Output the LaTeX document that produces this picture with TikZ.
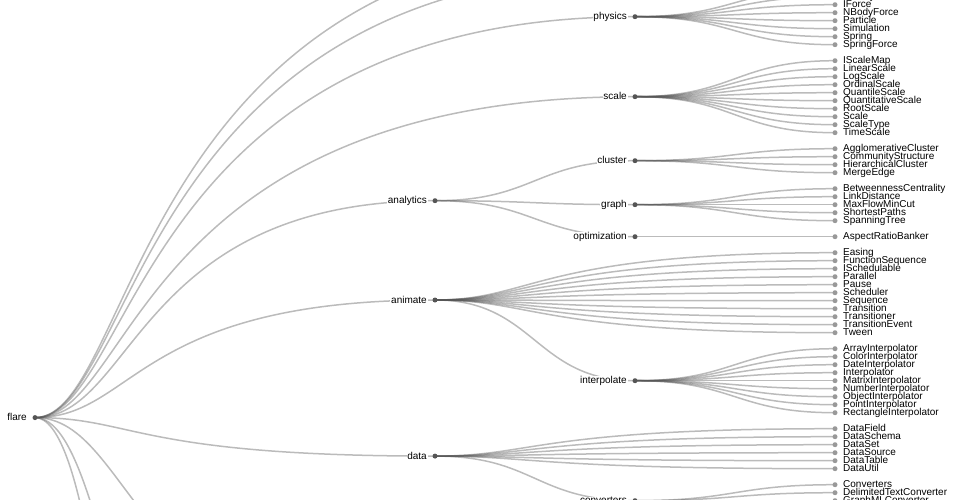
\documentclass[tikz,border=0pt]{standalone}
\usepackage{fontspec}
\setmainfont{Liberation Sans}
\setsansfont{Liberation Sans}
\usetikzlibrary{calc}
\pgfdeclarelayer{bg}
\pgfsetlayers{bg,main}
\definecolor{linkc}{HTML}{555555}
\definecolor{intc}{HTML}{555555}
\definecolor{leafc}{HTML}{999999}
\tikzset{
  treedot/.style={circle, inner sep=0pt, minimum size=5pt, draw=none},
  intdot/.style={treedot, fill=intc},
  leafdot/.style={treedot, fill=leafc},
  intlbl/.style={anchor=base east, font=\fontsize{10}{12}\selectfont, inner xsep=0.8pt, inner ysep=0.6pt, fill=white, text=black},
  leaflbl/.style={anchor=base west, font=\fontsize{10}{12}\selectfont, inner sep=0pt, text=black},
  treelink/.style={draw=linkc, draw opacity=0.4, line width=1.5pt},
}
% internal node: name, x, y, label
\newcommand\inode[4]{%
  \node[intdot] (#1) at (#2,#3) {};
  \node[intlbl] (#1-l) at ([xshift=-7.2pt,yshift=-3pt]#1.center) {#4};}
% leaf node: name, y
\newcommand\leafnode[2]{%
  \node[leafdot] (#1) at (835,#2) {};
  \node[leaflbl] (#1-l) at ([xshift=8pt,yshift=-3pt]#1.center) {#1};}
% link parent -> child
\newcommand\lnk[2]{\draw[treelink] (#1.center) .. controls ($(#1.center)+(100,0)$) and ($(#1.center |- #2.center)+(100,0)$) .. (#2.center);}
\begin{document}
\begin{tikzpicture}[x=1pt,y=-1pt]
\useasboundingbox (0,0) rectangle (960,500);
\clip (0,0) rectangle (960,500);
% ---- nodes ----
\inode{flare}{35}{417.6}{flare}
\coordinate (display) at (635,-55.3);
\coordinate (flex) at (635,-27.3);
\coordinate (query) at (435,649.3);
\coordinate (util) at (435,1106.2);
\coordinate (vis) at (235,1432.8);
% physics
\inode{physics}{635}{16.7}{physics}
\coordinate (DragForce) at (835,-11.3);
\leafnode{GravityForce}{-3.3}
\leafnode{IForce}{4.7}
\leafnode{NBodyForce}{12.7}
\leafnode{Particle}{20.7}
\leafnode{Simulation}{28.7}
\leafnode{Spring}{36.7}
\leafnode{SpringForce}{44.7}
% scale
\inode{scale}{635}{96.7}{scale}
\leafnode{IScaleMap}{60.7}
\leafnode{LinearScale}{68.7}
\leafnode{LogScale}{76.7}
\leafnode{OrdinalScale}{84.7}
\leafnode{QuantileScale}{92.7}
\leafnode{QuantitativeScale}{100.7}
\leafnode{RootScale}{108.7}
\leafnode{Scale}{116.7}
\leafnode{ScaleType}{124.7}
\leafnode{TimeScale}{132.7}
% analytics
\inode{analytics}{435}{200.7}{analytics}
\inode{cluster}{635}{160.7}{cluster}
\leafnode{AgglomerativeCluster}{148.7}
\leafnode{CommunityStructure}{156.7}
\leafnode{HierarchicalCluster}{164.7}
\leafnode{MergeEdge}{172.7}
\inode{graph}{635}{204.7}{graph}
\leafnode{BetweennessCentrality}{188.7}
\leafnode{LinkDistance}{196.7}
\leafnode{MaxFlowMinCut}{204.7}
\leafnode{ShortestPaths}{212.7}
\leafnode{SpanningTree}{220.7}
\inode{optimization}{635}{236.7}{optimization}
\leafnode{AspectRatioBanker}{236.7}
% animate
\inode{animate}{435}{300.0}{animate}
\leafnode{Easing}{252.7}
\leafnode{FunctionSequence}{260.7}
\leafnode{ISchedulable}{268.7}
\leafnode{Parallel}{276.7}
\leafnode{Pause}{284.7}
\leafnode{Scheduler}{292.7}
\leafnode{Sequence}{300.7}
\leafnode{Transition}{308.7}
\leafnode{Transitioner}{316.7}
\leafnode{TransitionEvent}{324.7}
\leafnode{Tween}{332.7}
\inode{interpolate}{635}{380.7}{interpolate}
\leafnode{ArrayInterpolator}{348.7}
\leafnode{ColorInterpolator}{356.7}
\leafnode{DateInterpolator}{364.7}
\leafnode{Interpolator}{372.7}
\leafnode{MatrixInterpolator}{380.7}
\leafnode{NumberInterpolator}{388.7}
\leafnode{ObjectInterpolator}{396.7}
\leafnode{PointInterpolator}{404.7}
\leafnode{RectangleInterpolator}{412.7}
% data
\inode{data}{435}{456.1}{data}
\leafnode{DataField}{428.7}
\leafnode{DataSchema}{436.7}
\leafnode{DataSet}{444.7}
\leafnode{DataSource}{452.7}
\leafnode{DataTable}{460.7}
\leafnode{DataUtil}{468.7}
\inode{converters}{635}{500.7}{converters}
\leafnode{Converters}{484.7}
\leafnode{DelimitedTextConverter}{492.7}
\leafnode{GraphMLConverter}{500.7}
% ---- links ----
\begin{pgfonlayer}{bg}
\clip (0,0) rectangle (960,500);
\foreach \c in {display,flex,physics,scale,analytics,animate,data,query,util,vis} {\lnk{flare}{\c}}
\foreach \c in {DragForce,GravityForce,IForce,NBodyForce,Particle,Simulation,Spring,SpringForce} {\lnk{physics}{\c}}
\foreach \c in {IScaleMap,LinearScale,LogScale,OrdinalScale,QuantileScale,QuantitativeScale,RootScale,Scale,ScaleType,TimeScale} {\lnk{scale}{\c}}
\foreach \c in {cluster,graph,optimization} {\lnk{analytics}{\c}}
\foreach \c in {AgglomerativeCluster,CommunityStructure,HierarchicalCluster,MergeEdge} {\lnk{cluster}{\c}}
\foreach \c in {BetweennessCentrality,LinkDistance,MaxFlowMinCut,ShortestPaths,SpanningTree} {\lnk{graph}{\c}}
\lnk{optimization}{AspectRatioBanker}
\foreach \c in {Easing,FunctionSequence,ISchedulable,Parallel,Pause,Scheduler,Sequence,Transition,Transitioner,TransitionEvent,Tween,interpolate} {\lnk{animate}{\c}}
\foreach \c in {ArrayInterpolator,ColorInterpolator,DateInterpolator,Interpolator,MatrixInterpolator,NumberInterpolator,ObjectInterpolator,PointInterpolator,RectangleInterpolator} {\lnk{interpolate}{\c}}
\foreach \c in {DataField,DataSchema,DataSet,DataSource,DataTable,DataUtil,converters} {\lnk{data}{\c}}
\foreach \c in {Converters,DelimitedTextConverter,GraphMLConverter} {\lnk{converters}{\c}}
\end{pgfonlayer}
\end{tikzpicture}
\end{document}
